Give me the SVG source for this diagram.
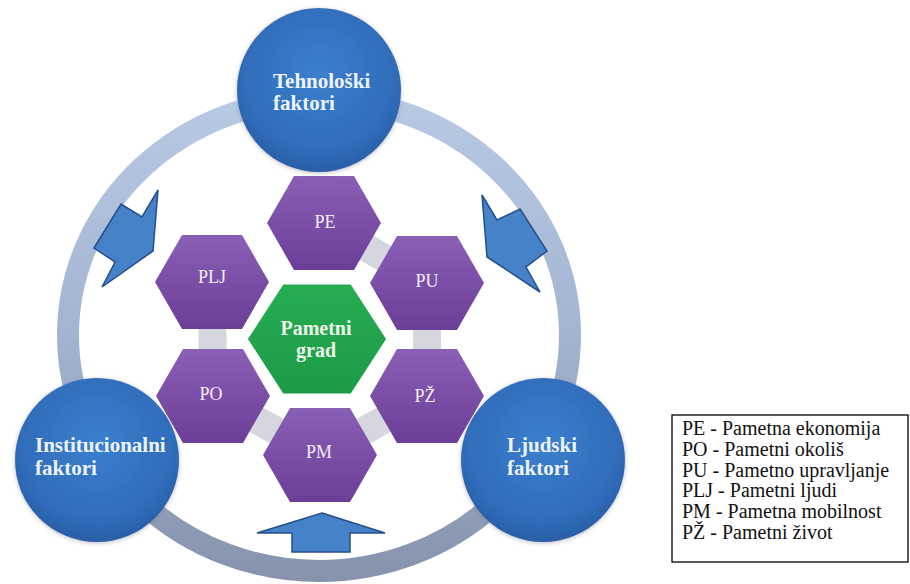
<svg xmlns="http://www.w3.org/2000/svg" width="910" height="584" viewBox="0 0 910 584">
<defs>
<linearGradient id="ringGrad" gradientUnits="userSpaceOnUse" x1="0" y1="90" x2="0" y2="580">
<stop offset="0" stop-color="#b9cae4"/>
<stop offset="0.5" stop-color="#a2b4d1"/>
<stop offset="1" stop-color="#8793ad"/>
</linearGradient>
<radialGradient id="blueGrad" cx="0.5" cy="0.4" r="0.6">
<stop offset="0" stop-color="#3b7fcf"/>
<stop offset="0.8" stop-color="#2f6cb9"/>
<stop offset="1" stop-color="#2a5ea6"/>
</radialGradient>
<linearGradient id="purpleGrad" x1="0" y1="0" x2="0" y2="1">
<stop offset="0" stop-color="#8a5fb6"/>
<stop offset="1" stop-color="#6b3e97"/>
</linearGradient>
<linearGradient id="greenGrad" x1="0" y1="0" x2="0" y2="1">
<stop offset="0" stop-color="#26ad52"/>
<stop offset="1" stop-color="#1c9a47"/>
</linearGradient>
<filter id="soft" x="-10%" y="-10%" width="120%" height="120%">
<feGaussianBlur in="SourceAlpha" stdDeviation="2"/>
<feOffset dx="0" dy="1" result="b"/>
<feFlood flood-color="#7a7a8a" flood-opacity="0.5"/>
<feComposite in2="b" operator="in"/>
<feMerge><feMergeNode/><feMergeNode in="SourceGraphic"/></feMerge>
</filter>
</defs>
<style>
.circle { fill: url(#blueGrad); filter: url(#soft); }
.ctext { font-family: "Liberation Serif", serif; font-weight: bold; font-size: 21px; fill: #eef4ff; }
.hex { fill: url(#purpleGrad); }
.htext { font-family: "Liberation Serif", serif; font-size: 18px; fill: #f3eefa; text-anchor: middle; }
.gtext { font-family: "Liberation Serif", serif; font-weight: bold; font-size: 20px; fill: #eaf7e6; text-anchor: middle; }
.arrow { fill: #4682c8; stroke: #234f8a; stroke-width: 1.5; stroke-linejoin: miter; }
.ltext { font-family: "Liberation Serif", serif; font-size: 20px; fill: #111; }
</style>
<rect width="910" height="584" fill="#ffffff"/>
<g id="connectors">
<ellipse cx="319" cy="335" rx="251" ry="236" fill="none" stroke="url(#ringGrad)" stroke-width="22"/>
<polygon class="arrow" points="158,190 142,217 121,204 94,248 115,262 102,287 153,251"/>
<polygon class="arrow" points="482,195 497,220 520,209 547,251 526,267 540,292 487,257"/>
<polygon class="arrow" points="322,513 385,533 350,533 350,552 292,552 292,533 257,533"/>
<polyline points="212,282 213,396 320,455 427,396 427,283 324,223" fill="none" stroke="#d6d6de" stroke-width="28" stroke-linejoin="round"/>
</g>
<g id="node-pe">
<polygon class="hex" points="267,223 294,176 354,176 381,223 354,270 294,270"/>
<text class="htext" x="325" y="228">PE</text>
</g>
<g id="node-pu">
<polygon class="hex" points="370,283 397,236 457,236 484,283 457,330 397,330"/>
<text class="htext" x="427" y="287">PU</text>
</g>
<g id="node-pz">
<polygon class="hex" points="370,396 397,349 457,349 484,396 457,443 397,443"/>
<text class="htext" x="425" y="402">PŽ</text>
</g>
<g id="node-pm">
<polygon class="hex" points="263,455 290,408 350,408 377,455 350,502 290,502"/>
<text class="htext" x="319" y="458">PM</text>
</g>
<g id="node-po">
<polygon class="hex" points="156,396 183,349 243,349 270,396 243,443 183,443"/>
<text class="htext" x="211" y="400">PO</text>
</g>
<g id="node-plj">
<polygon class="hex" points="155,282 182,235 242,235 269,282 242,329 182,329"/>
<text class="htext" x="212" y="283">PLJ</text>
</g>
<g id="node-grad">
<polygon points="245,339 282,282 352,282 389,339 352,396 282,396" fill="url(#greenGrad)" stroke="#ffffff" stroke-width="5" stroke-linejoin="round"/>
<text class="gtext" x="316" y="335">Pametni</text>
<text class="gtext" x="316" y="357">grad</text>
</g>
<g id="node-tehnoloski">
<circle class="circle" cx="319" cy="90" r="82"/>
<text class="ctext" x="273" y="88">Tehnološki</text>
<text class="ctext" x="273" y="110">faktori</text>
</g>
<g id="node-institucionalni">
<circle class="circle" cx="97" cy="460" r="82"/>
<text class="ctext" x="35" y="452">Institucionalni</text>
<text class="ctext" x="35" y="475">faktori</text>
</g>
<g id="node-ljudski">
<circle class="circle" cx="543" cy="460" r="82"/>
<text class="ctext" x="507" y="452">Ljudski</text>
<text class="ctext" x="507" y="475">faktori</text>
</g>
<g id="legend">
<rect x="672" y="415" width="236" height="147" fill="#ffffff" stroke="#000000" stroke-width="1.3"/>
<text class="ltext" x="682" y="435">PE - Pametna ekonomija</text>
<text class="ltext" x="682" y="456">PO - Pametni okoliš</text>
<text class="ltext" x="682" y="477">PU - Pametno upravljanje</text>
<text class="ltext" x="682" y="497">PLJ - Pametni ljudi</text>
<text class="ltext" x="682" y="518">PM - Pametna mobilnost</text>
<text class="ltext" x="682" y="539">PŽ - Pametni život</text>
</g>
</svg>
